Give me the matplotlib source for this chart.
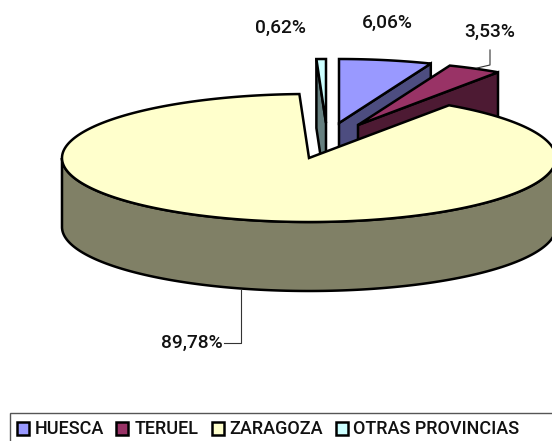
import numpy as np
import matplotlib
matplotlib.use("Agg")
import matplotlib.pyplot as plt
from matplotlib.patches import Polygon, Rectangle

categories = ["HUESCA", "TERUEL", "ZARAGOZA", "OTRAS PROVINCIAS"]
values = [6.06, 3.53, 89.78, 0.62]
value_labels = ["6,06%", "3,53%", "89,78%", "0,62%"]
top_colors = ["#9999FF", "#993366", "#FFFFCC", "#CCFFFF"]
side_colors = ["#4D4D80", "#4D1A33", "#808066", "#668080"]

# layout, in pixels of the 552x441 picture
centers = [(339, 123), (358, 125), (309, 158), (326, 123)]
RX, RY, DEPTH = 247, 64, 69
label_pos = [(387, 23), (490, 32), (192, 343), (281, 28)]
legend_marker_x = [16, 115, 211, 335]
legend_text_x = [35, 135, 229, 353]

FONT = "Roboto"

fig = plt.figure(figsize=(5.52, 4.41), dpi=100)
ax = fig.add_axes([0, 0, 1, 1])
ax.set_xlim(0, 552)
ax.set_ylim(441, 0)
ax.axis("off")

fractions = np.array(values) / sum(values) * 360.0
ends = np.cumsum(fractions)
starts = ends - fractions


def rim(center, a0, a1, drop=0):
    t = np.radians(np.linspace(a0, a1, max(2, int(abs(a1 - a0)) * 2)))
    return np.column_stack([center[0] + RX * np.sin(t), center[1] + drop - RY * np.cos(t)])


EDGE = dict(edgecolor="black", linewidth=1.8, joinstyle="miter")


def cut_face(center, angle, color, z):
    p = rim(center, angle, angle)[0]
    pts = [center, p, (p[0], p[1] + DEPTH), (center[0], center[1] + DEPTH)]
    ax.add_patch(Polygon(pts, closed=True, facecolor=color, zorder=z, **EDGE))


def top_face(center, a0, a1, color, z):
    pts = np.vstack([[center], rim(center, a0, a1)])
    ax.add_patch(Polygon(pts, closed=True, facecolor=color, zorder=z, **EDGE))


# HUESCA
cut_face(centers[0], ends[0], side_colors[0], 1)
top_face(centers[0], starts[0], ends[0], top_colors[0], 2)
# TERUEL
cut_face(centers[1], ends[1], side_colors[1], 3)
top_face(centers[1], starts[1], ends[1], top_colors[1], 4)
# OTRAS
cut_face(centers[3], starts[3], side_colors[3], 5)
top_face(centers[3], starts[3], ends[3], top_colors[3], 6)
# ZARAGOZA
wall = np.vstack([rim(centers[2], 90, 270), rim(centers[2], 270, 90, DEPTH)])
ax.add_patch(Polygon(wall, closed=True, facecolor=side_colors[2], zorder=7, **EDGE))
top_face(centers[2], starts[2], ends[2], top_colors[2], 8)

# value labels
for (x, y), s in zip(label_pos, value_labels):
    ax.text(x, y, s, ha="center", va="center", family=FONT, fontsize=13.8,
            fontweight="medium", color="#111111", zorder=10)

# leader lines
ax.plot([490, 490, 477], [50, 65, 68], color="#333333", lw=0.8, zorder=9)
ax.plot([224, 241, 241], [343, 343, 289], color="#333333", lw=0.8, zorder=9)

# legend
ax.add_patch(Rectangle((9.5, 412.5), 560, 40, facecolor="white", edgecolor="#555555",
                       linewidth=1.0, zorder=1))
for mx, tx, name, color in zip(legend_marker_x, legend_text_x, categories, top_colors):
    ax.add_patch(Rectangle((mx + 0.5, 422), 12.5, 12.5, facecolor=color, edgecolor="black",
                           linewidth=1.8, zorder=10))
    ax.text(tx, 429, name, ha="left", va="center", family=FONT, fontsize=13,
            fontweight="medium", color="#111111", zorder=10)

fig.savefig("out.png", dpi=100)
